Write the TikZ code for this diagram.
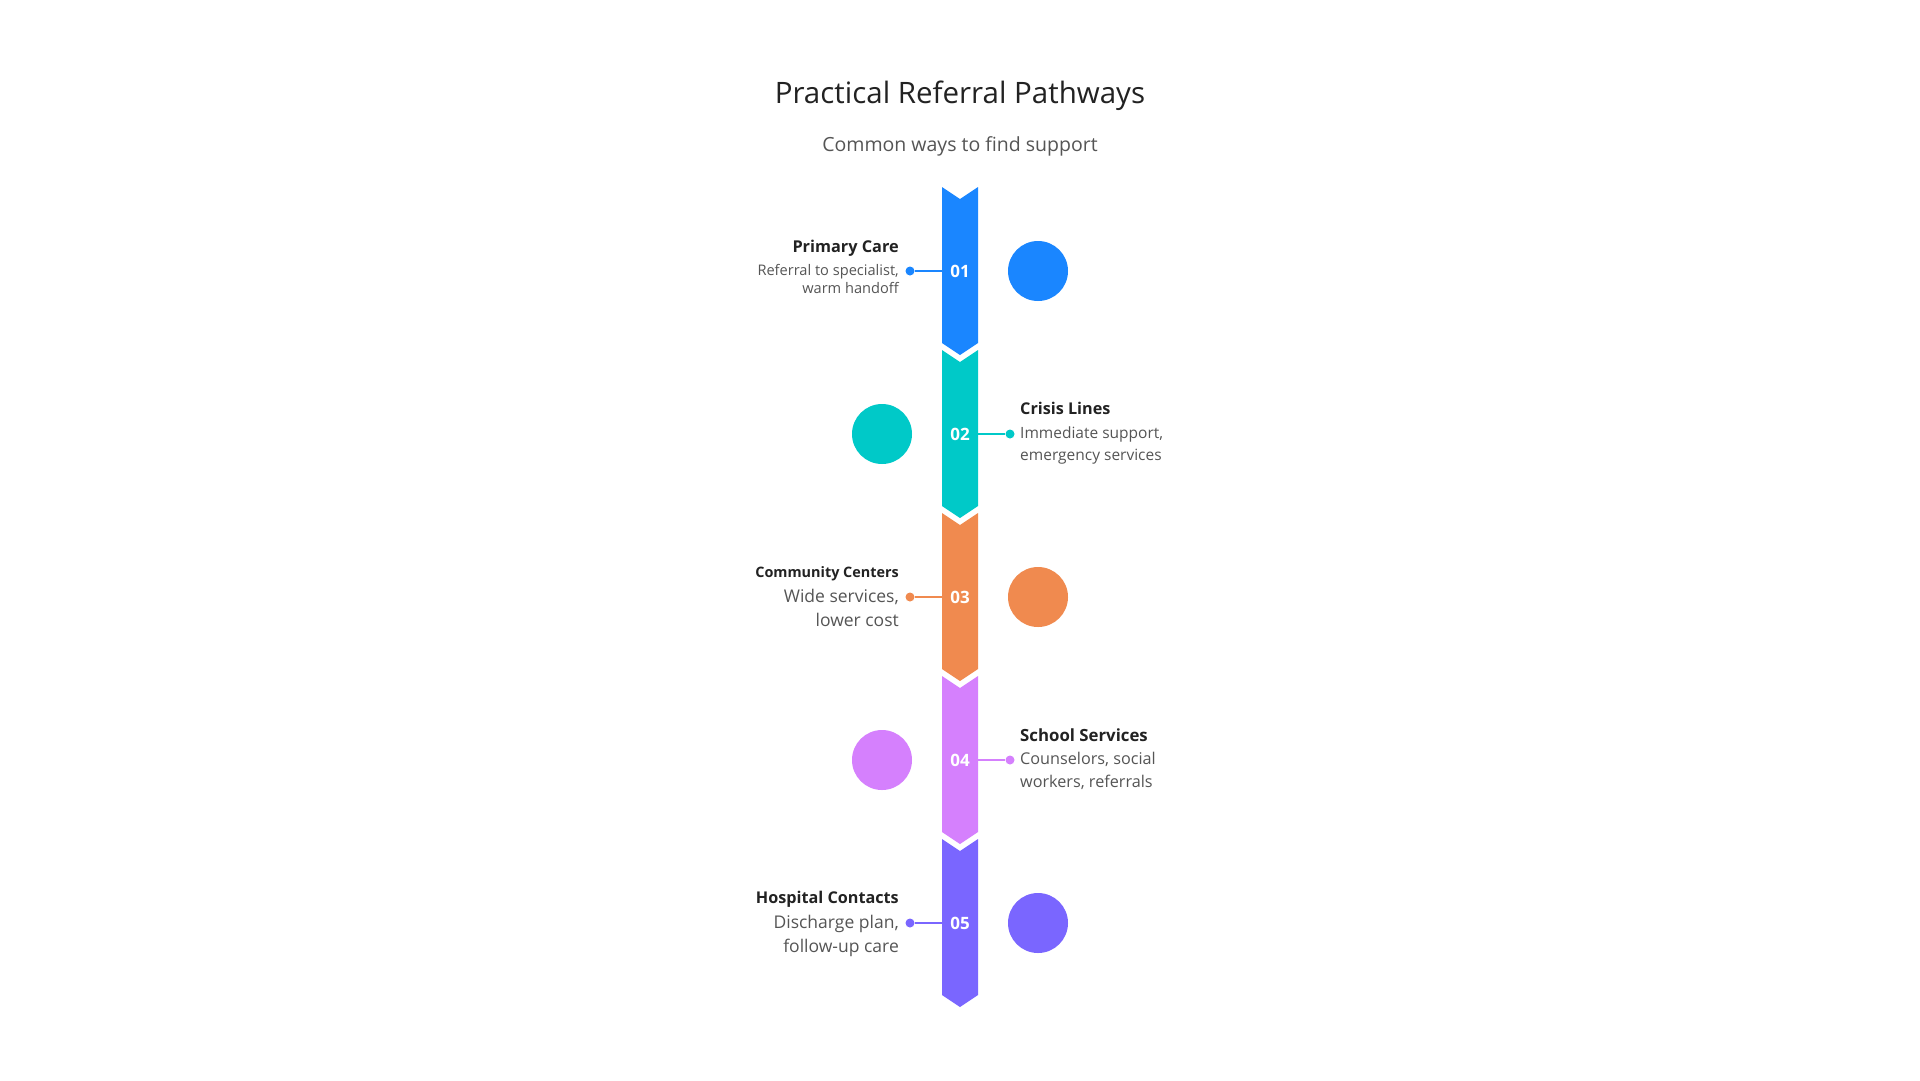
\documentclass[tikz,border=0pt]{standalone}
\usepackage{fontspec}
\IfFontExistsTF{Noto Sans Bold}
  {\setmainfont{Noto Sans}[BoldFont={Noto Sans Bold}]}
  {\setmainfont{Open Sans}}
\usetikzlibrary{positioning}

\definecolor{pblue}{HTML}{1A86FF}
\definecolor{pteal}{HTML}{00C9C8}
\definecolor{porange}{HTML}{F08A4F}
\definecolor{plilac}{HTML}{D580FD}
\definecolor{pviolet}{HTML}{7A66FF}
\definecolor{inkdark}{HTML}{222222}
\definecolor{inkgray}{HTML}{555555}

\tikzset{
  head/.style={font=\fontsize{29.5}{32}\selectfont, text=inkdark, inner sep=0pt},
  subhead/.style={font=\fontsize{19.5}{22}\selectfont, text=inkgray, inner sep=0pt},
  num/.style={font=\fontsize{17}{20}\selectfont\bfseries, text=white, minimum width=36pt, inner sep=0pt},
  dot/.style={circle, fill=#1, minimum size=9pt, inner sep=0pt},
  bigdot/.style={circle, fill=#1, minimum size=60pt, inner sep=0pt},
  link/.style={draw=#1, line width=2pt},
  itemtitle/.style={font=\fontsize{#1}{18}\selectfont\bfseries, text=inkdark, inner sep=0pt},
  itemdesc/.style 2 args={font=\fontsize{#1}{#2}\selectfont, text=inkgray, inner sep=0pt},
}

\begin{document}
\begin{tikzpicture}[x=1pt, y=-1pt]
\useasboundingbox[fill=white] (0,0) rectangle (1920,1080);

\node[head] (title) at (960, 95.5) {Practical Referral Pathways};
\node[subhead] (subtitle) at (960, 146.5) {Common ways to find support};

% 01 primary care
\fill[pblue] (942,187) -- (960,199) -- (978,187) -- (978,343) -- (960,355) -- (942,343) -- cycle;
\node[num] (n1) at (960,271) {01};
\node[dot=pblue] (d1) at (910,271) {};
\draw[link=pblue] (n1.west) -- (d1);
\node[bigdot=pblue] (b1) at (1038,271) {};
\node[itemtitle=16.3, anchor=base east] (t1) at (899,252.5) {Primary Care};
\node[itemdesc={14.6}{18.5}, anchor=base east, align=right] (s1) at (899,293.5) {Referral to specialist,\\warm handoff};

% 02 crisis lines
\fill[pteal] (942,350) -- (960,362) -- (978,350) -- (978,506) -- (960,518) -- (942,506) -- cycle;
\node[num] (n2) at (960,434) {02};
\node[dot=pteal] (d2) at (1010,434) {};
\draw[link=pteal] (n2.east) -- (d2);
\node[bigdot=pteal] (b2) at (882,434) {};
\node[itemtitle=16.2, anchor=base west] (t2) at (1020,414.8) {Crisis Lines};
\node[itemdesc={15.5}{22}, anchor=base west, align=left] (s2) at (1020,460.5) {Immediate support,\\emergency services};

% 03 community centers
\fill[porange] (942,513) -- (960,525) -- (978,513) -- (978,669) -- (960,681) -- (942,669) -- cycle;
\node[num] (n3) at (960,597) {03};
\node[dot=porange] (d3) at (910,597) {};
\draw[link=porange] (n3.west) -- (d3);
\node[bigdot=porange] (b3) at (1038,597) {};
\node[itemtitle=14.4, anchor=base east] (t3) at (899,577.8) {Community Centers};
\node[itemdesc={17.5}{23.3}, anchor=base east, align=right] (s3) at (899,626) {Wide services,\\lower cost};

% 04 school services
\fill[plilac] (942,676) -- (960,688) -- (978,676) -- (978,832) -- (960,844) -- (942,832) -- cycle;
\node[num] (n4) at (960,760) {04};
\node[dot=plilac] (d4) at (1010,760) {};
\draw[link=plilac] (n4.east) -- (d4);
\node[bigdot=plilac] (b4) at (882,760) {};
\node[itemtitle=16.8, anchor=base west] (t4) at (1020,741) {School Services};
\node[itemdesc={16.2}{22.7}, anchor=base west, align=left] (s4) at (1020,787.5) {Counselors, social\\workers, referrals};

% 05 hospital contacts
\fill[pviolet] (942,839) -- (960,851) -- (978,839) -- (978,995) -- (960,1007) -- (942,995) -- cycle;
\node[num] (n5) at (960,923) {05};
\node[dot=pviolet] (d5) at (910,923) {};
\draw[link=pviolet] (n5.west) -- (d5);
\node[bigdot=pviolet] (b5) at (1038,923) {};
\node[itemtitle=16.2, anchor=base east] (t5) at (899,903.8) {Hospital Contacts};
\node[itemdesc={17.5}{23.3}, anchor=base east, align=right] (s5) at (899,952) {Discharge plan,\\follow-up care};

\end{tikzpicture}
\end{document}
